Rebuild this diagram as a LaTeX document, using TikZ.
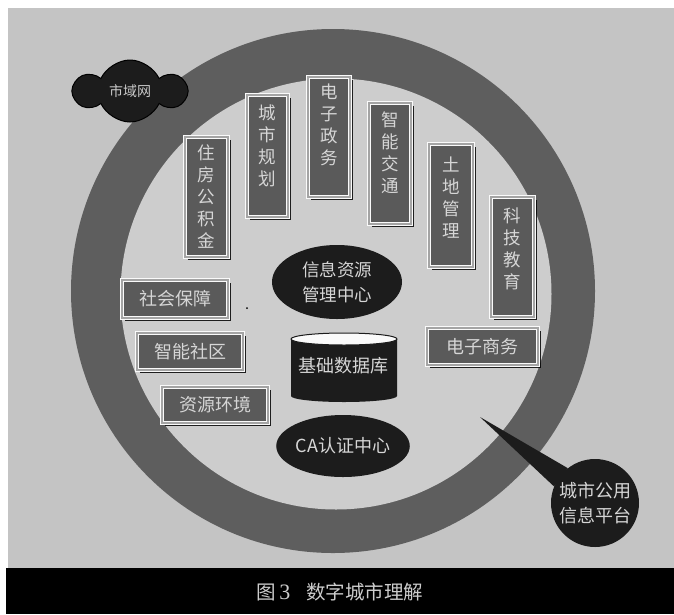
\documentclass[tikz,border=0pt]{standalone}
\usepackage{fontspec}
\newfontfamily\cjk{Noto Sans CJK SC}
\newfontfamily\capserif{Liberation Serif}
\usetikzlibrary{shapes.geometric,shapes.symbols,shadows,calc}
\definecolor{bggray}{HTML}{C4C4C4}
\definecolor{innergray}{HTML}{CDCDCD}
\definecolor{ringgray}{HTML}{5E5E5E}
\definecolor{boxgray}{HTML}{5A5A5A}
\definecolor{txtlight}{HTML}{D6D6D6}
\definecolor{darkfill}{HTML}{1C1C1C}
\definecolor{bevelgray}{HTML}{A4A4A4}
\tikzset{
  bbox/.style={rectangle, fill=boxgray, draw=white!96!gray, double=bevelgray, double distance=1.1pt,
    line width=1pt, inner sep=0pt,
    drop shadow={shadow xshift=3pt, shadow yshift=-3pt, fill=black, opacity=0.85},
    font=\cjk\fontsize{18}{20}\selectfont, text=txtlight},
  vtext/.style={font=\cjk\fontsize{17.5}{22}\selectfont, text=txtlight, align=center, inner sep=0pt, anchor=north},
  darkoval/.style={ellipse, fill=darkfill, inner sep=0pt, font=\cjk\fontsize{17.5}{25}\selectfont, text=txtlight, align=center},
}
\begin{document}
\begin{tikzpicture}[x=1pt,y=-1pt]
\useasboundingbox (0,0) rectangle (674,614);
\fill[white] (0,0) rectangle (674,614);
\fill[bggray] (8,8) rectangle (674,568);
\fill[black] (6,568) rectangle (674,614);
% ring
\fill[ringgray] (333,291) circle (262);
\fill[innergray] (336,294) circle (215.5);
% cloud
\node[cloud, cloud puffs=6, cloud puff arc=130, cloud ignores aspect, fill=darkfill, draw=black, line width=1pt,
  minimum width=110pt, minimum height=62pt, inner sep=0pt,
  font=\cjk\fontsize{14}{16}\selectfont, text=txtlight!85!gray] (net) at (130,91) {市域网};
% vertical boxes
\node[bbox, minimum width=43pt, minimum height=120pt] (zf) at (206.5,197) {};
\node[vtext] (zft) at ([yshift=-8pt]zf.north) {住\\房\\公\\积\\金};
\node[bbox, minimum width=41pt, minimum height=122pt] (cs) at (267.5,156) {};
\node[vtext] (cst) at ([yshift=-10pt]cs.north) {城\\市\\规\\划};
\node[bbox, minimum width=42pt, minimum height=120pt] (dz) at (329,137) {};
\node[vtext] (dzt) at ([yshift=-7pt]dz.north) {电\\子\\政\\务};
\node[bbox, minimum width=42pt, minimum height=121pt] (zn) at (390,163.5) {};
\node[vtext] (znt) at ([yshift=-9pt]zn.north) {智\\能\\交\\通};
\node[bbox, minimum width=44pt, minimum height=123pt] (td) at (451,205.5) {};
\node[vtext] (tdt) at ([yshift=-13pt]td.north) {土\\地\\管\\理};
\node[bbox, minimum width=43pt, minimum height=120pt] (kj) at (512.5,257) {};
\node[vtext] (kjt) at ([yshift=-11pt]kj.north) {科\\技\\教\\育};
% horizontal boxes
\node[bbox, minimum width=106pt, minimum height=38pt] (sh) at (175,299) {社会保障};
\node[bbox, minimum width=106pt, minimum height=37pt] (sq) at (190,351.5) {智能社区};
\node[bbox, minimum width=106pt, minimum height=36pt] (zy) at (215,405) {资源环境};
\node[bbox, minimum width=111pt, minimum height=37pt] (ds) at (482.5,346.5) {电子商务};
% centre
\node[darkoval, minimum width=130pt, minimum height=74pt] (info) at (337,282) {信息资源\\管理中心};
\fill[darkfill] (291,339) -- (291,396) arc[start angle=180,end angle=0,x radius=53,y radius=6] -- (397,339) -- cycle;
\filldraw[fill=white!96!gray, draw=darkfill, line width=1pt] (344,339) ellipse[x radius=53, y radius=6];
\node[font=\cjk\fontsize{18}{20}\selectfont, text=txtlight, inner sep=0pt] (db) at (343,366) {基础数据库};
\node[darkoval, minimum width=130pt, minimum height=62pt, font=\cjk\fontsize{18}{20}\selectfont] (ca) at (343,446) {CA认证中心};
\fill[black] (247,308) circle (1);
% platform bubble
\node[circle, fill=darkfill, minimum size=88pt, inner sep=0pt, align=center,
  font=\cjk\fontsize{18}{25}\selectfont, text=txtlight] (plat) at (595,503) {城市公用\\信息平台};
\coordinate (tip) at (480,417);
\fill[darkfill] (tip) -- (plat.158) -- (plat.128) -- cycle;
% caption
\node[font=\cjk\fontsize{19.5}{22}\selectfont, text=txtlight!90!gray, inner sep=0pt] (cap) at (340,592)
  {图\hspace{3pt}{\capserif\fontsize{22}{22}\selectfont 3}\hspace{16pt}数字城市理解};
\end{tikzpicture}
\end{document}
